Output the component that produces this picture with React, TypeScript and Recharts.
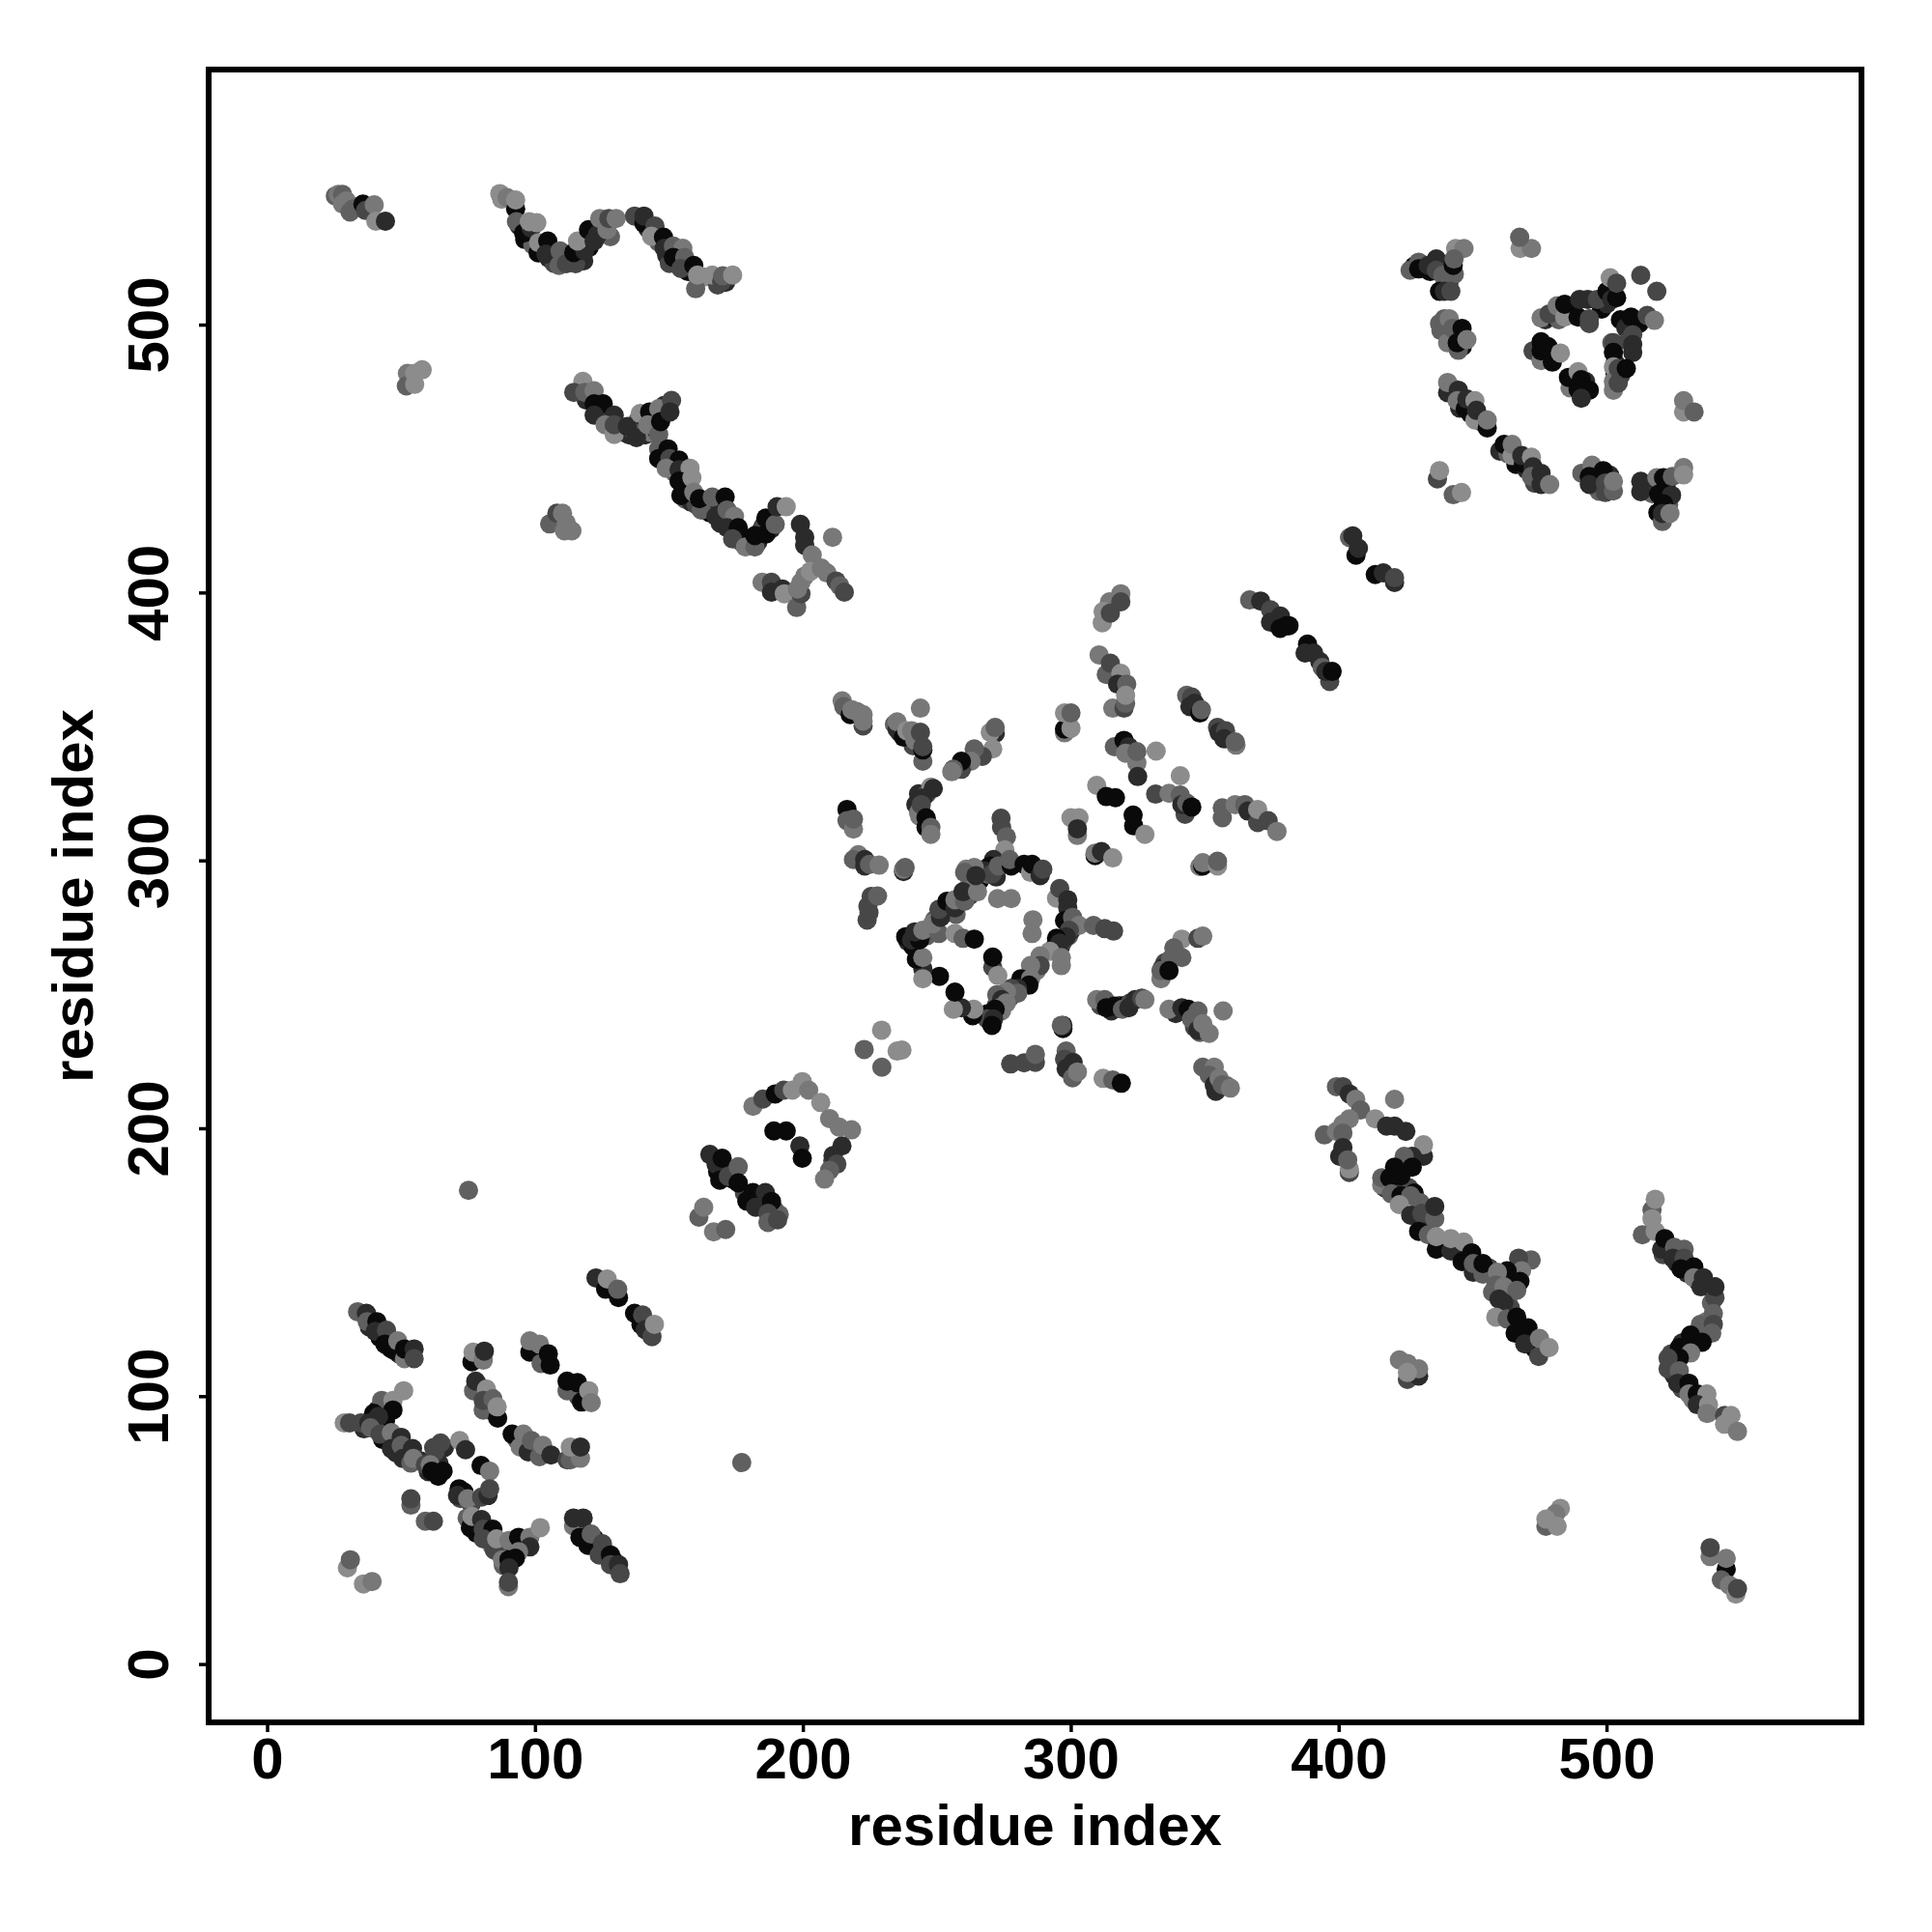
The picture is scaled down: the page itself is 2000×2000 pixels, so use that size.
import { ScatterChart, Scatter, XAxis, YAxis, ReferenceArea } from "recharts";

// each row: residue x, residue y, shade level (0 = darkest, 5 = lightest)
type Row = [number, number, number];

const tickValues = [0, 100, 200, 300, 400, 500];
const axisTitle = "residue index";
const shades = ["#0a0a0a", "#2b2b2b", "#474747", "#606060", "#787878", "#8c8c8c"];

// denser stretches, drawn first so they sit under the main bands
const upperFill: Row[] = [
  [94, 537, 1], [96, 532, 0], [99, 530, 3], [101, 527, 0], [105, 525, 1], [107, 523, 2], [110, 524, 2], [113, 524, 1], [116, 525, 0],
  [118, 524, 1], [120, 529, 0], [122, 535, 3], [125, 534, 0], [128, 533, 3], [142, 536, 1], [146, 531, 3], [149, 526, 1], [150, 523, 2],
  [153, 523, 2], [157, 520, 0], [163, 518, 5], [168, 515, 2], [171, 516, 1],
  [119, 472, 1], [123, 468, 0], [127, 464, 2], [131, 460, 3], [133, 460, 1], [135, 459, 1], [136, 461, 2], [139, 460, 0], [141, 459, 1],
  [143, 460, 4], [144, 463, 0], [145, 461, 1], [147, 466, 0], [148, 470, 1], [138, 464, 3], [141, 465, 0], [149, 451, 0], [151, 448, 1],
  [152, 445, 3], [155, 443, 4], [156, 440, 5], [156, 435, 3], [158, 434, 1], [160, 433, 2], [163, 432, 1], [165, 430, 0], [168, 432, 1],
  [169, 426, 1], [172, 427, 2], [176, 422, 3], [177, 419, 3], [179, 420, 0], [183, 419, 1], [184, 423, 0], [188, 424, 1], [187, 426, 1],
  [185, 425, 2],
];
const centerFill: Row[] = [
  [239, 270, 1], [241, 268, 0], [243, 272, 0], [246, 272, 3], [247, 274, 2], [249, 275, 1], [249, 278, 3], [252, 280, 0], [254, 281, 4],
  [255, 283, 1], [257, 280, 3], [262, 287, 2], [262, 291, 4], [266, 293, 0], [268, 297, 1], [269, 295, 3], [271, 297, 0], [272, 294, 1],
  [270, 240, 0], [269, 243, 1], [272, 243, 2], [272, 246, 3], [274, 244, 4], [275, 249, 2], [277, 249, 1], [278, 251, 0], [279, 253, 3],
  [281, 253, 2], [283, 255, 0], [285, 258, 1], [287, 259, 4], [294, 268, 0], [296, 268, 1], [297, 270, 2], [298, 272, 0], [299, 272, 3],
  [300, 274, 1], [301, 276, 2],
  [242, 321, 1], [243, 325, 1], [246, 325, 2], [243, 318, 4], [246, 315, 1], [234, 351, 3], [236, 348, 1], [239, 346, 0], [241, 343, 2],
  [311, 246, 2], [315, 244, 1], [318, 246, 2], [320, 246, 0], [322, 247, 2], [339, 243, 1], [345, 243, 0], [346, 238, 2], [348, 236, 3],
  [347, 241, 1], [355, 218, 2], [354, 214, 1], [358, 216, 3], [335, 262, 2], [334, 260, 1],
  [168, 184, 0], [170, 185, 1], [174, 181, 0], [178, 176, 2], [183, 172, 0], [187, 170, 1], [189, 170, 2], [191, 168, 3], [211, 188, 2],
];
const lowerFill: Row[] = [
  [417, 178, 1], [420, 178, 3], [422, 179, 0], [424, 177, 1], [426, 178, 2], [428, 176, 0], [431, 170, 4], [433, 164, 1], [438, 157, 4],
  [440, 156, 0], [443, 156, 1], [447, 153, 0], [452, 147, 1], [456, 148, 2], [460, 143, 4], [463, 143, 1], [464, 141, 3], [462, 138, 0],
  [463, 136, 4], [464, 133, 2], [467, 127, 2], [469, 123, 0], [471, 121, 1], [472, 122, 2], [473, 118, 0],
  [521, 153, 2], [526, 150, 1], [530, 146, 1], [534, 143, 0], [538, 141, 2], [539, 135, 3], [537, 128, 4], [533, 122, 1], [530, 121, 0],
  [528, 120, 1], [524, 116, 2], [525, 113, 3], [525, 108, 1], [528, 103, 2], [532, 99, 4], [535, 98, 1], [538, 94, 5],
  [38, 126, 1], [42, 122, 0], [46, 118, 0], [49, 116, 1], [52, 115, 1], [79, 104, 2], [83, 100, 3], [83, 95, 1], [99, 118, 0], [103, 114, 0],
  [113, 104, 0], [118, 100, 1], [116, 100, 2], [93, 84, 3], [96, 82, 0], [100, 80, 2], [103, 79, 1],
  [36, 88, 1], [39, 92, 0], [41, 95, 1], [44, 91, 0], [40, 88, 4], [43, 84, 0], [48, 79, 1], [52, 78, 2], [53, 79, 0], [57, 76, 1], [60, 72, 1],
  [62, 74, 0], [64, 75, 1], [62, 81, 2], [66, 81, 1], [72, 62, 2], [76, 60, 2], [77, 52, 1], [78, 49, 0], [82, 48, 1], [84, 44, 3], [86, 43, 1],
  [88, 43, 2], [89, 42, 0], [91, 44, 3], [92, 41, 1], [94, 45, 0], [96, 45, 2], [88, 37, 3], [118, 50, 1], [122, 47, 0], [126, 42, 1], [129, 39, 0],
];
const upperRightFill: Row[] = [
  [428, 522, 0], [431, 522, 1], [434, 520, 0], [437, 522, 3], [440, 517, 2], [439, 520, 0], [441, 516, 1], [443, 519, 3], [438, 498, 3],
  [442, 495, 2], [446, 492, 0], [443, 476, 2], [445, 469, 1], [449, 467, 0], [453, 464, 2], [460, 453, 1], [463, 452, 3], [466, 448, 0],
  [470, 446, 1], [473, 441, 2], [494, 445, 1], [496, 441, 0], [497, 438, 3], [501, 444, 1], [515, 439, 0], [517, 437, 3], [519, 441, 1],
  [522, 440, 0], [523, 433, 3], [519, 430, 0],
  [477, 502, 1], [480, 503, 0], [482, 502, 3], [485, 505, 0], [498, 506, 0], [500, 508, 1], [502, 513, 1], [505, 502, 0], [507, 499, 1],
  [508, 494, 2], [503, 486, 1], [505, 481, 2], [503, 482, 0], [477, 488, 1], [478, 492, 0], [488, 477, 0], [491, 476, 0], [492, 479, 1],
];

const cornerEnd: Row[] = [
  [25.3, 548.2, 3], [26.4, 548.8, 4], [28, 548.8, 3], [29.4, 546.4, 4], [28, 545.2, 4], [30.8, 542.2, 3], [31.9, 543.4, 3],
  [35.6, 545.2, 0], [36.6, 542.8, 2], [39.8, 544.9, 4], [40.4, 538.8, 5], [44, 538.8, 1],
];
const upperStrand: Row[] = [
  [86.7, 549.1, 5], [87.4, 547, 5], [89.4, 547.6, 4], [92.6, 543.4, 0], [92.6, 546.7, 5], [92.9, 538.6, 3], [95.6, 534.4, 0],
  [98.4, 536.2, 1], [97.7, 538.6, 5], [100.5, 538.2, 5], [101.2, 530.8, 5], [104.6, 531.4, 0], [103.9, 526.5, 1], [109.2, 527.7, 3],
  [108.8, 522.3, 3], [111.5, 522.9, 2], [115, 522.9, 2], [114.3, 527.1, 0], [118.4, 527.7, 1], [115.7, 531.4, 5], [119.8, 535.6, 0],
  [121.9, 531.4, 1], [123.2, 533.8, 1], [126.7, 535.6, 4], [124, 539.8, 4], [127.4, 539.8, 2], [130.1, 539.8, 4], [137, 540.7, 2],
  [140.5, 538, 0], [140.5, 540.7, 1], [144.6, 537, 2], [143.3, 533.2, 5], [147.8, 532.8, 0], [148.1, 528.7, 1], [151.5, 529.5, 3],
  [155, 528.7, 4], [151.5, 525.3, 0], [155.7, 525.3, 3], [154.3, 521.1, 2], [159.1, 522.3, 0], [159.8, 513.6, 3], [160.5, 518.7, 5],
  [166, 518.7, 5], [169.5, 516.3, 2], [169.9, 518.4, 3], [173.6, 518.7, 5],
];
const smallBlobs: Row[] = [
  [52.2, 482, 4], [51.8, 477.3, 3], [54.9, 477.9, 5], [54.9, 482, 5], [57.7, 483.3, 5],
  [105.3, 425.8, 3], [108, 429.8, 2], [110.1, 429.8, 4], [111.5, 426.2, 4], [110.8, 423.2, 4], [113.6, 423.2, 4],
  [75, 177, 3], [177, 75.4, 3],
  [482.6, 58.3, 5], [480.8, 56.3, 4], [477.2, 51.6, 3], [477.2, 54.3, 5], [481.4, 51.6, 5],
  [425.5, 106.4, 2], [429.7, 107.7, 1], [422.5, 113.7, 4], [425.5, 112.4, 4], [429.7, 110.4, 4], [425.5, 109, 5],
];
const longStrand: Row[] = [
  [117.7, 479, 5], [114.3, 474.9, 2], [118.4, 474.9, 3], [121.9, 475.5, 4], [121.9, 470.6, 0], [125.3, 470.6, 0], [121.9, 466.4, 1],
  [129.4, 466.4, 1], [126, 462.8, 4], [129.4, 459.2, 5], [129.4, 462.8, 2], [134.3, 462.2, 1], [137.7, 458, 1], [139.1, 467, 5],
  [142.6, 467.6, 0], [141.9, 462.8, 4], [146, 468.8, 4], [146, 459.2, 3], [146.7, 464, 0], [150.8, 471.9, 2], [150.2, 467.6, 1],
  [146, 453.8, 3], [149.5, 453.8, 0], [146, 450.2, 0], [150.2, 450.2, 2], [153.6, 449.6, 0], [148.8, 446.6, 4], [153.6, 446, 1],
  [157.7, 446.6, 5], [153.6, 441.8, 0], [158.4, 443, 5], [154.3, 436.4, 0], [159.1, 437.6, 4], [161.9, 431, 3], [161.2, 435.2, 0],
  [166, 435.8, 3], [170.8, 435.8, 0], [167.4, 428.6, 1], [171.5, 431, 3], [174.3, 428.6, 4], [171.5, 424.4, 1], [175.7, 424.4, 0],
  [173.6, 420.2, 2], [178.4, 417.2, 4], [181.9, 417.2, 3], [181.9, 421.4, 0], [186, 422, 0], [186, 428, 0], [189.5, 425.6, 3],
  [190.2, 432.2, 1], [193.6, 432.2, 5], [198.9, 425.6, 1], [200.5, 420.8, 1], [200.5, 417.8, 1], [210.9, 420.8, 4], [203.3, 414.2, 4],
];
const strandFoot: Row[] = [
  [184.6, 404, 4], [188.1, 404, 2], [188.1, 400.3, 1], [192.2, 401.5, 1], [192.9, 399.7, 5], [197.5, 394.6, 3], [199.1, 399.7, 2],
  [197.8, 401.5, 4], [199.1, 404, 4], [200.5, 406.3, 4], [202.6, 408.1, 5], [206.7, 409.3, 4], [208.8, 407.5, 4], [212.2, 404.5, 2],
  [213.6, 402.7, 3], [215.3, 400.3, 2],
];
const upperRightArc: Row[] = [
  [426.5, 520.5, 3], [429.7, 523.5, 3], [429.7, 521, 0], [433.3, 522.3, 1], [436.3, 524.7, 1], [436.3, 520.5, 2], [438.7, 518.6, 3],
  [442.6, 522.3, 0], [443.5, 528.6, 5], [446.6, 528.6, 4], [442.9, 524.7, 3], [437.5, 512.6, 0], [439.3, 512.6, 1], [441.7, 512.6, 2],
  [437.5, 500.6, 3], [439.3, 502.4, 3], [441.1, 502.4, 4], [440.5, 493.4, 4], [442.3, 498.8, 3], [445.9, 498.8, 0], [444.5, 490.6, 3],
  [444.1, 493.4, 0], [447.7, 494.6, 4],
  [440.5, 474.8, 1], [440.5, 478.6, 4], [444.5, 475.7, 1], [444.1, 471.8, 4], [447.1, 468.8, 0], [447.7, 472.4, 1], [450.7, 471.8, 5],
  [450.7, 464.6, 5], [451.3, 468.2, 1], [455.3, 461.6, 0], [455.3, 464.6, 4],
  [461.6, 455.5, 0], [464.6, 451.3, 5], [464.6, 455.5, 4], [468.8, 448.3, 0], [468.2, 451.3, 1], [471.8, 450.7, 5], [472.4, 447.1, 1],
  [471.8, 443.5, 3], [475.4, 444.7, 1], [475.4, 440.5, 1], [478.6, 440.5, 4],
  [436.7, 442.6, 2], [437.5, 445.7, 5], [442.6, 436.7, 3], [445.7, 437.5, 5],
  [490.6, 444.7, 3], [494.4, 447.7, 4], [493.4, 443.5, 0], [493.4, 440.5, 1], [498.6, 445.7, 0], [499.4, 437.5, 2], [499.4, 441.1, 2],
  [502.4, 438.1, 3], [502.4, 441.7, 4],
  [512.6, 437.8, 1], [512.6, 441.7, 1], [518.6, 443, 4], [521.1, 443, 0], [524.4, 443.5, 3], [528.6, 446.8, 4], [528.6, 444.1, 5],
  [519.3, 436.9, 0], [524.1, 436.5, 1], [521.1, 433.3, 0], [520.7, 426.7, 3], [520.7, 429.7, 1], [523.5, 429.7, 4],
  [467.6, 528.6, 5], [471.8, 528.6, 4], [467.4, 532.8, 3],
  [528.6, 467.6, 5], [528.6, 471.8, 4], [532.5, 467.6, 3],
];
const upperRightRing: Row[] = [
  [475.4, 502.7, 4], [478.4, 504.2, 2], [481.4, 507.2, 4], [484.2, 503, 5], [484.2, 507.8, 0], [489.2, 503, 0], [493.4, 502.4, 2],
  [493.4, 500.6, 2], [489.8, 509.6, 1], [492.8, 509.6, 1], [496.4, 509.6, 2], [500, 512.6, 0], [501.2, 517.7, 5], [501.8, 509.6, 1],
  [503.6, 510.2, 0], [503.6, 515.6, 2], [512.6, 518.6, 2], [518.6, 512.6, 2],
  [509, 503, 0], [512, 500.6, 0], [515, 503.6, 2], [517.7, 501.8, 4], [509.6, 496.4, 2], [509.6, 492.8, 1], [509.6, 489.8, 1],
  [501.8, 493.4, 3], [502.4, 493.4, 2], [502.4, 489.8, 0], [502.4, 484.4, 5], [502.4, 475.7, 4], [502.4, 479, 4], [504.2, 478.4, 2],
  [504.2, 483.8, 2], [507.2, 483.8, 0],
  [472.4, 490.4, 2], [475.4, 486.8, 4], [475.4, 493.8, 0], [475.4, 490.4, 0], [479, 490.4, 0], [479.6, 486.2, 0], [482.6, 489.6, 5],
  [486.2, 476.6, 4], [485.6, 480.5, 0], [489.2, 482.6, 5], [490.4, 479.6, 0], [489.2, 476, 0], [493.4, 475.7, 0], [490.4, 472.7, 1],
];
const diagonalHigh: Row[] = [
  [403.9, 420.7, 3], [405.1, 421.3, 1], [406.3, 414.1, 0], [407.2, 416.7, 1], [413.5, 406.9, 0], [416.5, 407.5, 1], [420.7, 403.9, 1],
  [420.7, 405.7, 2],
  [366.6, 397.4, 3], [370.7, 397, 1], [374.4, 393.7, 2], [378.1, 391.4, 1], [374.4, 389.1, 1], [380.4, 387.8, 0], [378, 386.8, 0],
  [381.3, 387.8, 0], [388.2, 380.9, 0], [387.3, 377.6, 1], [390.5, 377.6, 1], [392.8, 374.4, 1], [393.7, 372.2, 3], [396.5, 367, 2],
  [395, 370.7, 1], [397.4, 370.7, 0],
];
const centerUpper: Row[] = [
  [318.5, 399.7, 4], [314.3, 396.7, 4], [318.5, 396.7, 2], [311.6, 388.9, 5], [311.9, 393.1, 5], [314.6, 392.5, 2],
  [310.4, 376.9, 4], [313.1, 369.6, 3], [314.6, 373.8, 2], [318.5, 370, 5], [317.3, 366, 1], [320.7, 366, 3], [315.5, 357, 4],
  [319.7, 357, 2], [320.3, 358.8, 3], [320.3, 361.8, 5],
  [343.1, 361.8, 3], [345, 361.2, 2], [346.1, 358.8, 1], [344.3, 357.6, 1], [348, 355.2, 0], [348.6, 356.4, 3],
  [354.6, 349.8, 2], [355.2, 348, 1], [357.6, 348.6, 2], [357, 345.6, 1], [361.5, 343.2, 4], [361.2, 344.4, 3],
  [297.5, 347.8, 4], [297.5, 349.2, 0], [299.9, 349.5, 5], [297.5, 355.2, 5], [299.9, 355.2, 3],
];
const centerCross: Row[] = [
  [316.1, 342.6, 3], [319.7, 345, 0], [321.5, 342.6, 1], [320.3, 340.2, 4], [324.5, 336.6, 4], [324.5, 340.8, 3], [331.7, 341, 5],
  [324.8, 331.5, 1], [340.7, 331.8, 5], [309.5, 328.2, 5], [313.1, 324, 0], [316.5, 323.6, 0], [323.3, 313.1, 0], [323.1, 317.1, 0],
  [327.5, 309.9, 5], [331.5, 324.9, 2], [336.5, 325.2, 4], [340.7, 324.6, 3], [342.5, 317.4, 2], [341.3, 321, 1], [343.1, 321.6, 3],
  [345, 320.1, 0],
  [356.4, 316.1, 3], [356.4, 319.8, 3], [361.2, 321, 4], [364.8, 321, 3], [366, 318.6, 1], [369.6, 314.3, 2], [369.6, 319.2, 5],
  [373.5, 315, 2], [376.8, 311, 4],
  [348, 297.9, 4], [349.1, 298.1, 0], [349.1, 299.3, 4], [354.6, 298.1, 5], [354.6, 299.9, 3],
  [299.9, 316.1, 5], [302.9, 316.1, 5], [302.3, 309.5, 4], [302.3, 312, 1],
  [308.9, 302, 0], [308.9, 302.9, 4], [311.3, 303.5, 1], [315.5, 301.1, 5],
];
const centerLeft: Row[] = [
  [214.5, 359.7, 4], [215.1, 357.6, 3], [217.5, 354.6, 0], [218.1, 356.4, 4], [219.9, 355.8, 4], [222.3, 350.4, 2], [222.3, 352.2, 4],
  [222.3, 354.6, 4],
  [235, 349.2, 1], [235, 351.9, 4], [237.4, 346.2, 0], [238.6, 348.6, 5], [240.4, 348.6, 4], [243.7, 357, 4], [241.6, 345, 4],
  [244.6, 337.2, 3], [244.6, 341.4, 0], [244.6, 342.6, 2], [243.7, 348, 2],
  [271.6, 347.6, 1], [269.8, 348, 5], [271.6, 349.8, 3], [270.7, 341.8, 5], [266.8, 339, 2], [263.8, 341.8, 3], [262.6, 337.2, 4],
  [259, 334.2, 2], [259, 337.2, 0], [256, 334.2, 3], [255.4, 333.3, 4],
  [247.6, 327.6, 5], [248.5, 327, 1], [244.6, 323.4, 1], [243.4, 316.7, 4], [244, 321, 2], [245.8, 316.1, 0], [245.8, 312.5, 0],
  [247.6, 312.5, 3], [247.6, 309.9, 4],
  [216.3, 319.2, 0], [216.3, 315, 3], [218.7, 311.9, 4], [218.7, 315.6, 3],
  [220.5, 302.3, 4], [218.7, 300.5, 3], [222.9, 300.5, 1], [222.9, 298.1, 1], [224.7, 298.7, 3], [228.3, 298.4, 4],
  [237.4, 296, 1], [237.4, 296.9, 4], [238, 297.5, 3],
  [223.8, 277.9, 2], [224.5, 280.7, 2], [224.1, 283.1, 2], [225.3, 286.7, 2], [227.7, 286.9, 3],
];
const diamondEdges: Row[] = [
  [273.8, 315.9, 2], [274, 312.5, 2], [275.8, 309, 3], [275.2, 304.1, 5], [271, 300.5, 1], [269.8, 298.1, 0], [267.4, 296.3, 1],
  [270.4, 295.1, 2], [272.8, 298.1, 3], [277.6, 298.1, 0], [277, 300.5, 3], [282.4, 298.7, 0], [284.8, 295.7, 5], [285.4, 298.7, 0],
  [288.4, 294.5, 1], [289.4, 296.9, 2], [294.5, 286.1, 5], [295.7, 289.7, 2], [298.7, 285.5, 1], [298.7, 282.5, 1], [297.5, 277.7, 0],
  [300.5, 278.9, 3], [302.9, 275.9, 4], [308.3, 275.9, 3], [312.5, 274.7, 2], [315.8, 273.8, 2],
  [299.3, 274.1, 2], [298.1, 271.7, 1], [294.5, 271.1, 0], [295.7, 269.3, 1], [292, 266.3, 5], [288.4, 264.5, 4], [296.3, 260.9, 4],
  [296.3, 263.9, 4], [288.4, 260.9, 2], [284.8, 260.9, 4], [281.2, 256, 0], [284.8, 256, 4], [284.2, 253.6, 0], [280, 252.4, 1],
  [277.6, 252.4, 2], [280, 250.6, 3], [275.8, 251.2, 4], [272.2, 250, 3], [274, 248.2, 1], [275.8, 247, 4], [273.4, 245.2, 4],
  [271.6, 244.6, 0], [268.6, 242.8, 0], [268.6, 241, 2], [271, 241, 1], [270.4, 238.6, 0],
  [263.2, 242.2, 0], [263.6, 244.6, 5], [259, 245.2, 1], [256, 244.6, 5], [256.6, 251, 0], [250.8, 256.9, 0], [244.6, 259.7, 1],
  [244.6, 256, 5], [242.2, 263.3, 0], [244.6, 263.9, 4],
  [238.2, 271.7, 0], [240.4, 270.5, 1], [243.4, 270.5, 0], [241.6, 273.5, 1], [244.6, 274.1, 4], [250.6, 272.9, 3], [248.2, 276.5, 4],
  [251.2, 278.9, 1], [250.6, 281.9, 2], [253.6, 284.9, 0], [256.6, 282.5, 1], [256.6, 285.5, 4], [260.2, 284.9, 3], [259.6, 288.5, 1],
  [265, 288.5, 4], [260.8, 296.9, 4], [263.8, 297.5, 4], [260.2, 295.7, 3], [264.4, 294.5, 1],
];
const diamondInside: Row[] = [
  [270.7, 260.3, 2], [272.6, 257.2, 5], [270.7, 264.1, 0], [256.6, 272.9, 5], [259.6, 271.1, 3], [263.8, 270.8, 0],
  [285.4, 272.9, 4], [285.7, 278, 4], [272.5, 285.9, 4], [277.6, 285.9, 4],
];
const centerLower: Row[] = [
  [229.2, 236.8, 5], [222.7, 229.6, 3], [229.3, 223, 3], [235, 229, 5], [236.8, 229.4, 5],
  [277.4, 224.2, 2], [282.4, 224.6, 2], [286.6, 224.8, 2], [286.6, 227.8, 3],
  [296.9, 237.4, 0], [296.9, 238.6, 1], [296.3, 238.6, 3], [298.1, 229, 3], [297.5, 226, 2], [298.1, 222.4, 1], [300.5, 219, 3],
  [300.7, 224.8, 1], [302.3, 221.2, 4],
  [311.9, 218.8, 5], [315.5, 218.2, 3], [318.7, 217, 0],
  [349.1, 223, 3], [353.4, 223, 4], [351.5, 220, 3], [353.4, 216.4, 1], [355.2, 218.8, 4], [356.4, 216.4, 3], [359.4, 215.2, 4],
  [341.3, 270.8, 5], [347.3, 271.1, 2], [349.1, 271.9, 4], [338.3, 267.5, 3], [341.3, 263.9, 3], [337.1, 263.3, 3], [333.5, 256, 4],
  [333.5, 259, 3], [336.5, 259, 0],
  [309.5, 248.2, 4], [312.5, 248.2, 3], [313.1, 245.2, 0], [316.1, 245.8, 0], [319.1, 244.6, 3], [321.5, 245.2, 1], [323.9, 248.2, 1],
  [326.3, 248.8, 2], [327.5, 248.2, 4],
  [336.5, 244.6, 4], [341.3, 245.2, 1], [343.7, 244.6, 0], [344.9, 241, 3], [347.3, 244, 3], [347.3, 236.8, 1], [349.1, 239.2, 4],
  [351.5, 235.6, 4], [356.7, 244, 4],
];
const midStrands: Row[] = [
  [161, 167, 3], [162.8, 170.7, 4], [166.5, 161.5, 4], [171, 162.4, 3],
  [165.1, 190.4, 1], [167.4, 186.8, 1], [169.7, 189, 0], [168.8, 180.8, 0], [172, 182.2, 2], [175.7, 185.8, 3], [175.7, 179.8, 0],
  [178.9, 173, 0], [181.2, 176.2, 0], [185.8, 176.2, 1], [182.2, 170.7, 1], [188.1, 172.9, 0], [186.8, 168.4, 2], [186.8, 165, 3],
  [190.4, 166, 2],
  [181.2, 208.4, 4], [184.9, 211.1, 2], [189.5, 213, 0], [192.7, 214.4, 2], [195.9, 214.4, 5], [199.6, 217.6, 5], [202, 214.4, 4],
  [206.5, 209.8, 5], [189, 199.2, 0], [193.6, 199.2, 0], [198.7, 193.6, 1], [199.6, 189, 0], [209.8, 203.8, 4], [213.4, 200.6, 4],
  [218, 199.6, 4], [214.4, 193.6, 1], [211.1, 190, 1], [212.5, 186.8, 2], [209.8, 184.5, 3], [207.9, 181.2, 4],
];
const diagonalLow: Row[] = [
  [122.6, 144.3, 1], [126.2, 140.1, 0], [126.8, 143.9, 5], [131, 137, 0], [130.7, 140.1, 3], [137, 131.1, 0], [139.4, 126.9, 0],
  [140, 130.5, 2], [141, 125, 1], [143.5, 122.4, 2], [144.4, 127, 5],
];
const lowerLeftBands: Row[] = [
  [33.6, 131.7, 3], [36.9, 131.1, 1], [37.2, 128, 3], [40.8, 128, 0], [40.2, 124.4, 1], [44.4, 124.8, 2], [43.8, 119.6, 0],
  [47.4, 117.2, 0], [48.6, 120.8, 4], [51.1, 114.2, 4], [51.1, 117.8, 0], [54.7, 117.8, 1], [54.7, 114.2, 2],
  [76.3, 113, 0], [76.7, 116.6, 5], [80.5, 113.6, 4], [80.9, 117, 1],
  [76.9, 102.2, 3], [77.7, 105.8, 1], [81.7, 102.8, 5], [80.5, 95, 3], [80.5, 98.6, 2], [84.1, 99.2, 3], [85.9, 92, 0], [85.7, 96.2, 5],
  [97.9, 116.6, 0], [97.9, 120.8, 4], [101.5, 119.6, 4], [102.1, 112.4, 3], [105.5, 111.8, 0], [104.8, 116, 0],
  [111.8, 102.2, 3], [111.8, 105.8, 0], [115.7, 105.2, 0], [117.2, 98, 0], [119.9, 102.2, 5], [120.8, 97.8, 4],
  [91.3, 86, 0], [94.3, 81.2, 4], [95.5, 86, 4], [97.3, 79.4, 1], [98.5, 83.6, 3], [101.5, 77.6, 3], [102.7, 81.8, 4], [105.8, 78.2, 1],
  [111.8, 76.4, 2], [113, 76.4, 3], [116.8, 77, 4], [113, 81.2, 5], [116.8, 81.2, 1],
];
const lowerLeftFork: Row[] = [
  [50.8, 102.2, 5], [42.6, 98.6, 3], [46.8, 98.6, 5], [46.8, 95, 0], [39.6, 93.8, 0], [41.4, 92.6, 1], [28.6, 90.2, 5], [30.6, 90.2, 2],
  [34.8, 90.2, 2], [37.8, 90.2, 1], [38.4, 88.4, 3], [42, 86, 2], [46.2, 86.6, 4], [46.2, 80.6, 1], [49.9, 84.8, 1], [49.9, 81.8, 3],
  [50.5, 76.9, 1], [54.1, 80.6, 1], [53.5, 75.2, 3], [54.4, 76.9, 4],
  [62.5, 79.4, 2], [64.6, 82.7, 2], [71.7, 83.6, 5], [73.9, 80.2, 1], [79.7, 74.3, 0], [82.9, 72.2, 4],
  [58.9, 74.6, 2], [60.7, 74.6, 4], [61.3, 72.2, 0], [63.7, 70.3, 0], [65.5, 72.2, 0],
  [71.5, 65.6, 0], [73.3, 64.4, 0], [70.9, 63.1, 1], [74.7, 61.9, 4], [79.9, 62.5, 2], [82.3, 63.1, 1], [82.9, 65.6, 2],
  [53.5, 59.5, 3], [53.5, 61.9, 2], [58.9, 53.5, 3], [61.9, 53.5, 2],
  [74.5, 54.7, 3], [75.7, 51.1, 0], [76.3, 55.3, 5], [79.9, 54.1, 1], [80.5, 50.5, 2], [84.1, 50.5, 0], [80.5, 46.9, 2], [84.7, 42.7, 2],
  [85.5, 46.9, 5], [90.1, 46.3, 4], [93.7, 47.5, 0], [97.9, 47.5, 4], [101.8, 51.1, 5], [97.9, 43.9, 1], [93.7, 42.1, 4], [87.7, 39.1, 4],
  [90.1, 39.1, 0], [92.5, 39.7, 0], [90.1, 36.1, 1], [89.9, 29.1, 4], [89.9, 30.7, 2],
  [114.2, 51.7, 4], [114.2, 54.7, 1], [117.8, 54.7, 1], [116.6, 47.5, 0], [119.6, 44.5, 0], [120.8, 48.7, 3], [123.8, 40.9, 2], [125, 45.1, 2],
  [128, 40.9, 0], [128, 37.3, 2], [131, 37.3, 1], [131.6, 33.9, 2],
  [29.8, 36.1, 5], [30.9, 39.1, 3], [35.8, 30.1, 5], [39, 31, 4],
];
const lowerRightStrand: Row[] = [
  [399, 215.7, 3], [401.4, 215.7, 2], [403.8, 213, 1], [406.2, 211, 4], [408, 207, 3], [394.5, 197.7, 3], [403.8, 203.7, 4], [401.4, 201.7, 4],
  [399, 199, 4], [401.4, 198.4, 3], [400.2, 189.7, 1], [401.4, 193, 1], [403.8, 183.7, 2], [403.8, 185, 5], [403.2, 188.4, 3],
  [420.7, 211, 4], [413.5, 203.7, 5], [417.7, 201, 1], [420.7, 201, 1], [424.9, 199, 1],
  [431.5, 189.7, 1], [431.5, 194, 5], [427.3, 189.7, 1], [424.3, 189.7, 3], [427.3, 185.7, 0], [420.7, 185.7, 0], [423.1, 182.4, 0],
  [415.9, 179, 4], [415.9, 181.7, 3], [418.9, 181.7, 0], [419.5, 175.7, 3], [423.1, 175, 0], [426.7, 175, 3], [430.3, 172.4, 3],
  [422.5, 171.7, 5], [426.7, 167.7, 1], [430.9, 168.4, 2], [435.7, 166.4, 3], [435.7, 171, 1],
  [429.7, 161.7, 0], [433.3, 160.4, 3], [436.3, 155, 0], [436.3, 159.7, 5], [441.7, 154.4, 1], [441.7, 159, 5], [446.5, 157.7, 5],
  [445.9, 150.4, 0], [449.5, 153.7, 0], [450.1, 146.4, 1], [450.1, 149.7, 3], [453.7, 145.7, 3], [453.7, 149.7, 0],
  [471.7, 151, 3], [467, 151.7, 2], [468.1, 147, 4], [462.7, 147, 0], [459.1, 146.4, 4], [467.5, 143, 0], [458.5, 141.7, 3],
  [457.3, 139, 3], [461.5, 141, 4], [459.7, 136.4, 1], [466.3, 139.7, 3], [461.5, 135, 1], [458.5, 129.7, 5], [462.7, 129, 3],
  [466.3, 129.7, 0], [465.7, 123.7, 0], [470.5, 125.7, 0], [469.3, 119.7, 1], [474.5, 115, 2], [474.8, 121.7, 4], [478.4, 118.3, 5],
];
const lowerRightEdge: Row[] = [
  [516.8, 169.7, 3], [516.8, 166.4, 5], [518, 173.7, 5], [513.2, 160.4, 3], [518, 161.7, 5], [520.4, 155, 1], [521.6, 159, 0],
  [525.2, 155.7, 3], [528.8, 155, 3], [524.6, 151.7, 1], [528.8, 151.7, 2], [527.6, 147.7, 0], [532.4, 148.4, 0], [532.4, 144.4, 4],
  [536, 144.4, 1], [535.1, 141, 1], [540.3, 137, 2], [540.3, 141, 1], [539.7, 131, 3], [534.9, 127, 3], [539.7, 127, 2], [539.1, 123.7, 3],
  [531.2, 123, 0], [535.5, 120.3, 0], [527, 118.3, 0], [531.2, 116.3, 4], [527, 114.4, 0], [522.8, 114.4, 2], [522.8, 110.4, 2],
  [527, 109.7, 3], [526.4, 105, 1], [530.6, 105, 0], [530.6, 101, 4], [533.7, 101, 0], [537.3, 101, 5], [533.7, 97, 1], [537.9, 97, 5],
  [537.3, 93.7, 4], [543.9, 93, 2], [543.9, 89.7, 5], [546.3, 93, 5], [548.7, 87, 4],
  [538.5, 40.3, 4], [538.5, 43.6, 2], [544.5, 35.6, 0], [544.5, 39.6, 4], [542.7, 31.6, 3], [545.7, 29.6, 4], [548.1, 26.3, 5], [548.7, 28.3, 2],
];

const regions = [
  upperFill, centerFill, lowerFill, upperRightFill,
  cornerEnd, upperStrand, smallBlobs, longStrand, strandFoot, upperRightArc, upperRightRing, diagonalHigh, centerUpper, centerCross,
  centerLeft, diamondEdges, diamondInside, centerLower, midStrands, diagonalLow, lowerLeftBands, lowerLeftFork, lowerRightStrand, lowerRightEdge,
];

const font = '"Liberation Sans", Arial, sans-serif';

function Dot(props: any) {
  return <circle cx={props.cx} cy={props.cy} r={10} fill={shades[props.payload.shade]} />;
}

function XTick({ x, y, payload }: any) {
  return (
    <text x={x} y={y + 46} textAnchor="middle" fontFamily={font} fontWeight={700} fontSize={60} fill="#000">
      {payload.value}
    </text>
  );
}

function YTick({ x, y, payload }: any) {
  return (
    <text
      transform={`translate(${x - 30} ${y}) rotate(-90)`}
      textAnchor="middle"
      fontFamily={font}
      fontWeight={700}
      fontSize={60}
      fill="#000"
    >
      {payload.value}
    </text>
  );
}

export default function App() {
  return (
    <div style={{ position: "absolute", left: 0, top: 0 }}>
      <ScatterChart width={2000} height={2000} margin={{ top: 72, right: 73, bottom: 77, left: 66 }}>
        <XAxis
          type="number"
          dataKey="x"
          domain={[-22, 595]}
          ticks={tickValues}
          interval={0}
          height={140}
          axisLine={false}
          tickSize={10}
          tickLine={{ stroke: "#000", strokeWidth: 3.5 }}
          tick={<XTick />}
          label={{
            value: axisTitle,
            position: "insideBottom",
            offset: 13,
            style: { fontFamily: font, fontWeight: 700, fontSize: 60, fill: "#000" },
          }}
        />
        <YAxis
          type="number"
          dataKey="y"
          domain={[-21.6, 595.4]}
          ticks={tickValues}
          interval={0}
          width={150}
          axisLine={false}
          tickSize={10}
          tickLine={{ stroke: "#000", strokeWidth: 3.5 }}
          tick={<YTick />}
          label={{
            value: axisTitle,
            angle: -90,
            position: "insideLeft",
            offset: 9,
            style: { fontFamily: font, fontWeight: 700, fontSize: 60, fill: "#000", textAnchor: "middle" },
          }}
        />
        {regions.map((rows, i) => (
          <Scatter
            key={i}
            data={rows.map(([x, y, shade]) => ({ x, y, shade }))}
            shape={<Dot />}
            isAnimationActive={false}
          />
        ))}
        <ReferenceArea x1={-22} x2={595} y1={-21.6} y2={595.4} fill="none" stroke="#000" strokeWidth={6} />
      </ScatterChart>
    </div>
  );
}
